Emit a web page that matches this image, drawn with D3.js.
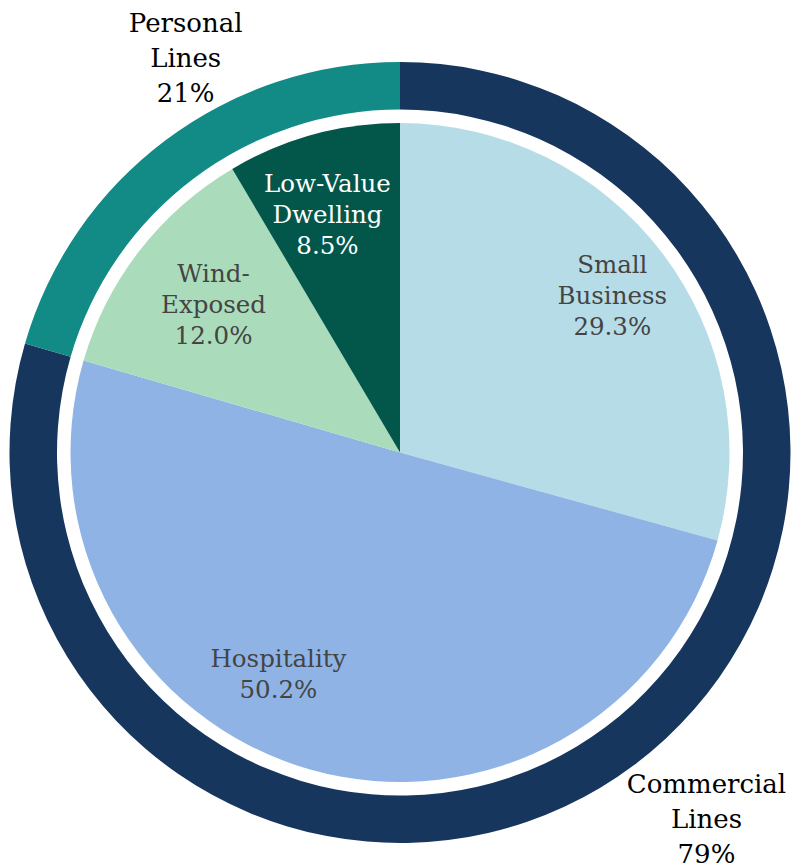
<!DOCTYPE html>
<html><head><meta charset="utf-8">
<script src="https://cdn.jsdelivr.net/npm/d3@7"></script>
<style>html,body{margin:0;padding:0;background:#fff;}svg{display:block;}</style>
</head><body>
<script>
// ---- data ----
const groups = ["Commercial Lines", "Personal Lines"];
const groupLabels = ["79%", "21%"];
const segments = ["Small Business", "Hospitality", "Wind-Exposed", "Low-Value Dwelling"];
const segmentGroup = ["Commercial Lines", "Commercial Lines", "Personal Lines", "Personal Lines"];
const segmentValues = [29.3, 50.2, 12.0, 8.5];
const segmentLabelLines = [["Small", "Business"], ["Hospitality"], ["Wind-", "Exposed"], ["Low-Value", "Dwelling"]];
const groupLabelLines = [["Commercial", "Lines"], ["Personal", "Lines"]];

// ---- style ----
const groupColors = {"Commercial Lines": "#17365d", "Personal Lines": "#128a86"};
const segmentColors = ["#b6dde7", "#8eb3e4", "#aadcbb", "#03574a"];
const segmentTextColors = ["#444", "#444", "#444", "#fff"];
const W = 792, H = 868, cx = 400, cy = 452.5;
const rPie = 329.5, rRingIn = 343, rRingOut = 390.5;
const segLabelR = [260, 260, 236, 248];
const segLabelAngleNudge = [0.035, 0.21, 0.0, -0.03];
const segLabelDy = [-6, -8, -3, 0];
const grpLabelR = [485, 452];
const grpLabelAngleNudge = [-0.04, 0.15];
const grpLabelDy = [-9, 3];

const svg = d3.select("body").append("svg").attr("width", W).attr("height", H);
const g = svg.append("g").attr("transform", `translate(${cx},${cy})`);

const groupValues = groups.map(gr => d3.sum(segmentValues.filter((v, i) => segmentGroup[i] === gr)));
const pie = d3.pie().sort(null).value(d => d);

const inner = pie(segmentValues);
const outer = pie(groupValues);

const innerArc = d3.arc().innerRadius(0).outerRadius(rPie);
const outerArc = d3.arc().innerRadius(rRingIn).outerRadius(rRingOut);

g.selectAll("path.seg").data(inner).join("path").attr("class", "seg")
  .attr("d", innerArc).attr("fill", (d, i) => segmentColors[i]);
g.selectAll("path.grp").data(outer).join("path").attr("class", "grp")
  .attr("d", outerArc).attr("fill", (d, i) => groupColors[groups[i]]);

const font = "DejaVu Serif";
function place(d, r, nudge) {
  const a = (d.startAngle + d.endAngle) / 2 + nudge;
  return [r * Math.sin(a), -r * Math.cos(a)];
}

inner.forEach((d, i) => {
  const lines = segmentLabelLines[i].concat([d3.format(".1f")(segmentValues[i]) + "%"]);
  const [x, y] = place(d, segLabelR[i], segLabelAngleNudge[i]);
  const lh = 31;
  const t = g.append("text").attr("text-anchor", "middle")
    .attr("font-family", font).attr("font-size", 24.5).attr("fill", segmentTextColors[i]);
  lines.forEach((s, k) => {
    t.append("tspan").attr("x", x).attr("y", y + (k - (lines.length - 1) / 2) * lh + 8 + segLabelDy[i]).text(s);
  });
});

outer.forEach((d, i) => {
  const lines = groupLabelLines[i].concat([groupLabels[i]]);
  const [x, y] = place(d, grpLabelR[i], grpLabelAngleNudge[i]);
  const lh = 35;
  const t = g.append("text").attr("text-anchor", "middle")
    .attr("font-family", font).attr("font-size", 26).attr("fill", "#000");
  lines.forEach((s, k) => {
    t.append("tspan").attr("x", x).attr("y", y + (k - (lines.length - 1) / 2) * lh + 9 + grpLabelDy[i]).text(s);
  });
});
</script>
</body></html>
